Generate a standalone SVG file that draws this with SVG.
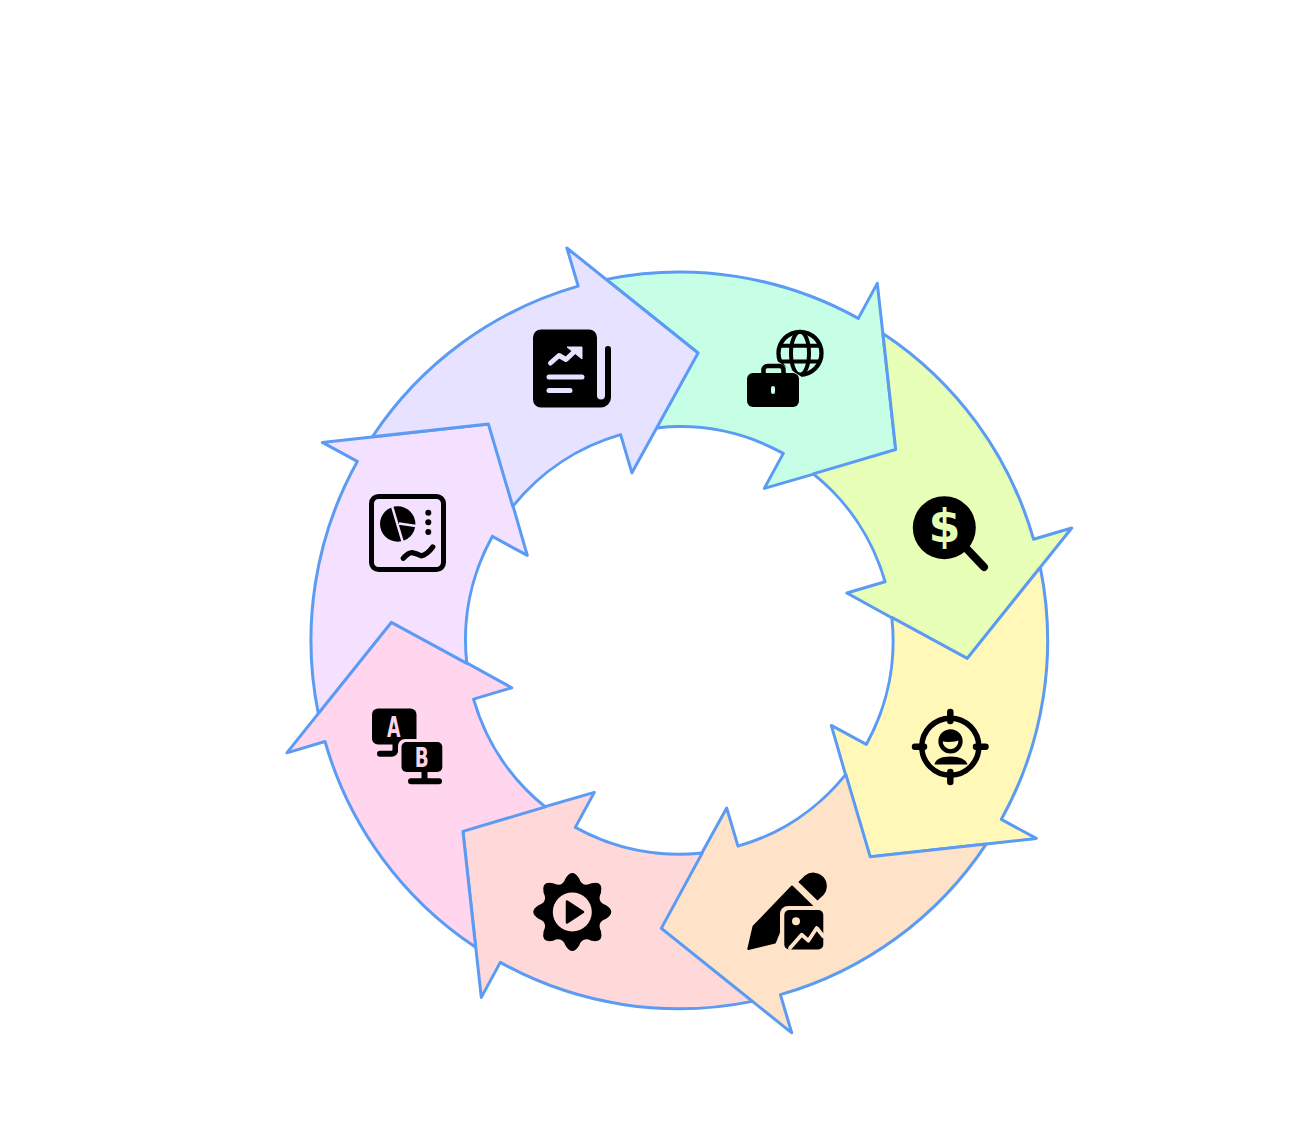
<svg xmlns="http://www.w3.org/2000/svg" xmlns:xlink="http://www.w3.org/1999/xlink" width="1300" height="1128" viewBox="0 0 1300 1128">
<style>
.seg{stroke:#5b9bf3;stroke-width:3;stroke-linejoin:round}
.k{fill:#000}
.ln{fill:none;stroke-linecap:round;stroke-linejoin:round}
.t{font-family:"DejaVu Sans","Liberation Sans",sans-serif;font-weight:700;text-anchor:middle;opacity:.99}
</style>
<defs>
<path id="arrow" d="M-73 -361A368 368 0 0 1 179 -322L198 -357L216.500 -190L85 -152L104 -187A213.500 213.500 0 0 0 -23 -212.500L18 -288Z"/>
</defs>
<rect width="1300" height="1128" fill="#fff"/>
<g id="connectors"></g>
<g id="node-business">
<use xlink:href="#arrow" class="seg" fill="#c6ffe6" transform="translate(679.300 640.400)"/>
<circle cx="800" cy="353.300" r="21.500" fill="none" stroke="#000" stroke-width="4.300"/>
<ellipse cx="800" cy="353.300" rx="9" ry="21.500" fill="none" stroke="#000" stroke-width="4"/>
<path d="M779 345.700H821M779 361.500H821" fill="none" stroke="#000" stroke-width="4"/>
<path d="M744 411V361H777L805 379V411Z" fill="#c6ffe6"/>
<path d="M763.500 374V370a4 4 0 0 1 4-4h12a4 4 0 0 1 4 4v4" fill="none" stroke="#000" stroke-width="4.500"/>
<path class="k" d="M753 373H793a6 6 0 0 1 6 6V401a6 6 0 0 1-6 6H753a6 6 0 0 1-6-6V379a6 6 0 0 1 6-6Z"/>
<rect x="771" y="386" width="4" height="8" rx="2" fill="#c6ffe6"/>
</g>
<g id="node-dollar">
<use xlink:href="#arrow" class="seg" fill="#e8ffb8" transform="rotate(45 679.300 640.400) translate(679.300 640.400)"/>
<circle class="k" cx="944.300" cy="527.700" r="31.500"/>
<path class="ln" d="M965 547L984 567" stroke="#000" stroke-width="8"/>
<text class="t" x="944.500" y="542" font-size="46" fill="#e8ffb8">$</text>
</g>
<g id="node-target">
<use xlink:href="#arrow" class="seg" fill="#fff8b8" transform="rotate(90 679.300 640.400) translate(679.300 640.400)"/>
<circle cx="950.300" cy="746.700" r="28.500" fill="none" stroke="#000" stroke-width="5.500"/>
<path class="ln" d="M950.300 712V721M950.300 772V782M915 746.700H924M976 746.700H985.500" stroke="#000" stroke-width="6.500"/>
<circle cx="950.500" cy="741.300" r="10" fill="#fff8b8" stroke="#000" stroke-width="4.300"/>
<path class="k" d="M940.500 741a10 10 0 0 1 20 -1q-10 3.500-20 1Z"/>
<path class="k" d="M934.500 764.500q1.500-8 16-8q14.500 0 17 8Z"/>
</g>
<g id="node-pencil">
<use xlink:href="#arrow" class="seg" fill="#ffe3c8" transform="rotate(135 679.300 640.400) translate(679.300 640.400)"/>
<path class="k" d="M798.300 882L805 875.500A13.500 13.500 0 0 1 823.500 895L817.500 900.500Z"/>
<path class="k" d="M748.300 949L753.500 926.500L792 886.500L813.500 907.500L780 930L775 942.500Z" stroke="#000" stroke-width="2" stroke-linejoin="round"/>
<rect x="780" y="906" width="47" height="47" rx="8" fill="#ffe3c8"/>
<rect class="k" x="784.300" y="910" width="39" height="39.500" rx="5"/>
<circle cx="796" cy="921.300" r="4" fill="#ffe3c8"/>
<path class="ln" d="M790 948L801.700 934.700L808.300 940.700L816.700 928L823.300 936.300" stroke="#ffe3c8" stroke-width="3.800"/>
</g>
<g id="node-gear">
<use xlink:href="#arrow" class="seg" fill="#ffd9d9" transform="rotate(180 679.300 640.400) translate(679.300 640.400)"/>
<path class="k" transform="translate(572.300 912)" d="M33.800 -6.700Q44.200 0 33.800 6.700Q24.200 10 28.700 19.200Q31.250 31.250 19.200 28.700Q10 24.200 6.700 33.800Q0 44.200 -6.700 33.800Q-10 24.200 -19.200 28.700Q-31.250 31.250 -28.700 19.200Q-24.200 10 -33.800 6.700Q-44.200 0 -33.800 -6.700Q-24.200 -10 -28.700 -19.200Q-31.250 -31.250 -19.200 -28.700Q-10 -24.200 -6.700 -33.800Q0 -44.200 6.700 -33.800Q10 -24.200 19.200 -28.700Q31.250 -31.250 28.700 -19.200Q24.200 -10 33.800 -6.700Z"/>
<circle cx="572.300" cy="912" r="19.500" fill="#ffd9d9"/>
<path class="k" d="M567 901.500L583 912L567 922.500Z" stroke="#000" stroke-width="2.500" stroke-linejoin="round"/>
</g>
<g id="node-ab">
<use xlink:href="#arrow" class="seg" fill="#ffd6ee" transform="rotate(225 679.300 640.400) translate(679.300 640.400)"/>
<rect class="k" x="372" y="708.500" width="44.500" height="36" rx="6"/>
<path class="ln" d="M380 753.700H391.500a4 4 0 0 0 4-4V742" stroke="#000" stroke-width="6"/>
<text class="t" x="393.800" y="737" font-size="29" fill="#ffd6ee" textLength="13.500" lengthAdjust="spacingAndGlyphs">A</text>
<rect x="398" y="739" width="47.300" height="36" rx="7" fill="#ffd6ee"/>
<rect class="k" x="401.500" y="742" width="40.800" height="30" rx="5"/>
<path class="ln" d="M424.500 772V781.300M411 781.300H439" stroke="#000" stroke-width="6"/>
<text class="t" x="421.700" y="767" font-size="27" fill="#ffd6ee" textLength="14" lengthAdjust="spacingAndGlyphs">B</text>
</g>
<g id="node-chart">
<use xlink:href="#arrow" class="seg" fill="#f4e1ff" transform="rotate(270 679.300 640.400) translate(679.300 640.400)"/>
<rect x="371.500" y="496.500" width="72" height="73" rx="7" fill="none" stroke="#000" stroke-width="5"/>
<circle class="k" cx="397.700" cy="524" r="17.700"/>
<path d="M392 506L403 543M399 523.500L416 526" fill="none" stroke="#f4e1ff" stroke-width="2.500"/>
<circle class="k" cx="428.300" cy="512.700" r="3"/>
<circle class="k" cx="428.300" cy="522.300" r="3"/>
<circle class="k" cx="428.300" cy="532" r="3"/>
<path class="ln" d="M403.300 558.300Q409 552 413 552.800T421 555.800Q427 555 432.700 547" stroke="#000" stroke-width="5.300"/>
</g>
<g id="node-report">
<use xlink:href="#arrow" class="seg" fill="#e6e2ff" transform="rotate(315 679.300 640.400) translate(679.300 640.400)"/>
<path class="k" d="M541 329.500H589a8 8 0 0 1 8 8V395.500a4 4 0 0 0 8 0V349a3 3 0 0 1 6 0V397.500a10 10 0 0 1-10 10H541a8 8 0 0 1-8-8V337.500a8 8 0 0 1 8-8Z"/>
<path class="ln" d="M550.500 363L559 355.500L566 359.500L575 351M549 377H582M549 390.500H570" stroke="#e6e2ff" stroke-width="5"/>
<path d="M567 347H582V359Z" fill="#e6e2ff" stroke="#e6e2ff" stroke-width="1" stroke-linejoin="round"/>
</g>
</svg>
